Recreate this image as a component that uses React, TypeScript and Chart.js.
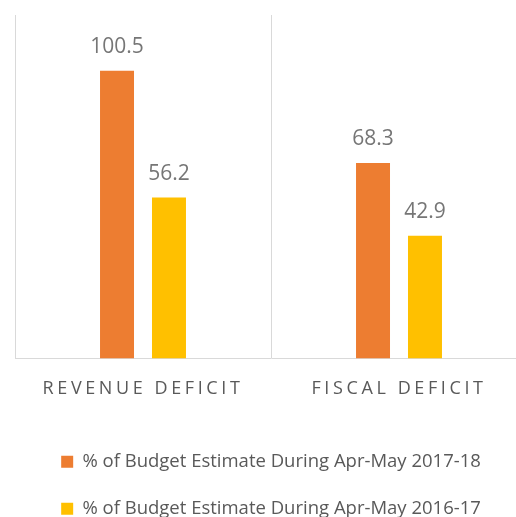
import React, { useEffect, useRef } from "react";
import { Chart, registerables } from "chart.js";

Chart.register(...registerables);

const categories = ["REVENUE DEFICIT", "FISCAL DEFICIT"];
const series2017 = [100.5, 68.3];
const series2016 = [56.2, 42.9];
const seriesNames = [
  "% of Budget Estimate During Apr-May 2017-18",
  "% of Budget Estimate During Apr-May 2016-17",
];

const FONT = "'Open Sans', 'Noto Sans', sans-serif";

export default function App() {
  const ref = useRef<HTMLCanvasElement | null>(null);

  useEffect(() => {
    if (!ref.current) return;
    const labelPlugin = {
      id: "valueLabels",
      afterDatasetsDraw(chart: any) {
        const ctx = chart.ctx;
        ctx.save();
        ctx.letterSpacing = "0px";
        ctx.font = `21px ${FONT}`;
        ctx.fillStyle = "#767676";
        ctx.textAlign = "center";
        ctx.textBaseline = "alphabetic";
        chart.data.datasets.forEach((ds: any, di: number) => {
          const meta = chart.getDatasetMeta(di);
          meta.data.forEach((bar: any, i: number) => {
            ctx.fillText(Number(ds.data[i]).toFixed(1), bar.x, bar.y - 17.5);
          });
        });
        ctx.restore();
        ctx.letterSpacing = "3.6px";
      },
      afterDraw(chart: any) {
        chart.ctx.letterSpacing = "0px";
      },
    };

    const chart = new Chart(ref.current, {
      type: "bar",
      data: {
        labels: categories,
        datasets: [
          {
            label: seriesNames[0],
            data: series2017,
            backgroundColor: "#ED7D31",
            categoryPercentage: 0.406,
            barPercentage: 0.654,
          },
          {
            label: seriesNames[1],
            data: series2016,
            backgroundColor: "#FFC000",
            categoryPercentage: 0.406,
            barPercentage: 0.654,
          },
        ],
      },
      options: {
        responsive: false,
        animation: false,
        devicePixelRatio: 1,
        layout: { padding: { left: 15, right: 13, top: 15, bottom: 0 } },
        scales: {
          x: {
            afterFit(scale: any) {
              scale.height += 5;
            },
            grid: {
              display: true,
              color: "#d9d9d9",
              lineWidth: 1,
              drawTicks: false,
              offset: true,
            },
            border: { display: true, color: "#d9d9d9" },
            ticks: {
              z: 1,
              padding: 19.5,
              color: "#595959",
              font: { family: FONT, size: 18 },
            },
          },
          y: {
            display: false,
            min: 0,
            max: 120,
          },
        },
        plugins: {
          tooltip: { enabled: false },
          legend: {
            display: true,
            position: "bottom",
            labels: {
              boxWidth: 12,
              boxHeight: 12,
              padding: 28.5,
              color: "#595959",
              font: { family: FONT, size: 18.5 },
            },
          },
        },
      },
      plugins: [labelPlugin],
    });
    return () => chart.destroy();
  }, []);

  return (
    <div
      style={{
        position: "fixed",
        left: 0,
        top: 0,
        width: 516,
        height: 517,
        overflow: "hidden",
        background: "#fff",
      }}
    >
      <canvas ref={ref} width={540} height={528} style={{ width: 540, height: 528 }} />
    </div>
  );
}
